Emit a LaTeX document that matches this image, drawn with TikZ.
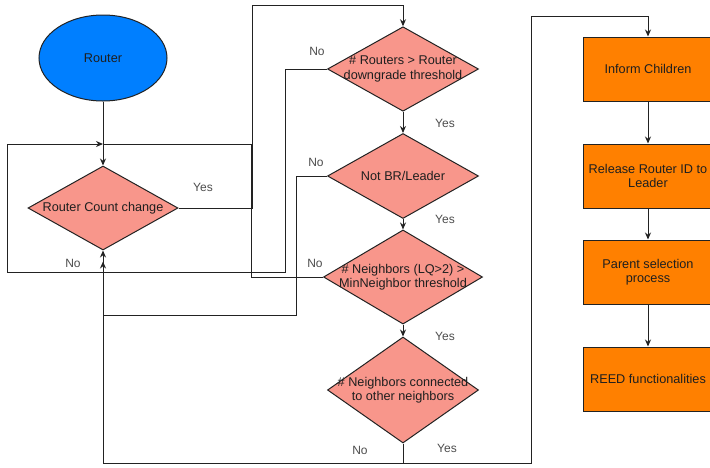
\documentclass[tikz,border=0pt]{standalone}
\usepackage{fontspec}
\setmainfont{Liberation Sans}
\usepackage{tikz}
\usetikzlibrary{shapes.geometric}
\usetikzlibrary{arrows.meta}

\definecolor{routerblue}{HTML}{007FFF}
\definecolor{decisionred}{HTML}{F8968B}
\definecolor{steporange}{HTML}{FF8000}
\definecolor{edgegray}{HTML}{222222}

\begin{document}
\begin{tikzpicture}[x=1pt, y=-1pt, line width=1pt,
	every node/.style={font=\fontsize{12.7}{14.5}\selectfont, text=black!88},
	decision/.style={diamond, draw=edgegray, fill=decisionred, align=center, inner sep=-15pt, minimum width=151pt, minimum height=84pt},
	stepbox/.style={rectangle, draw=edgegray, fill=steporange, align=center, minimum width=130pt, minimum height=64pt},
	arr/.style={draw=edgegray, -{Stealth[length=7pt, width=6pt]}},
	conn/.style={draw=edgegray},
	lbl/.style={text=black!70, font=\fontsize{12}{14}\selectfont}]
	\useasboundingbox (0,0) rectangle (710,467);

	% draw start node
	\node[ellipse, draw=edgegray, fill=routerblue, minimum width=128pt, minimum height=86pt] (router) at (103,58) {Router};

	% draw decisions
	\node[decision, minimum width=150pt] (count) at (103,208) {Router Count change};
	\node[decision] (routers) at (403,69) {\# Routers > Router\\downgrade threshold};
	\node[decision, minimum height=85pt] (notbr) at (403,176) {Not BR/Leader};
	\node[decision, minimum width=159pt, minimum height=94pt] (neigh) at (403,277) {\# Neighbors (LQ>2) >\\MinNeighbor threshold};
	\node[decision, minimum height=106pt] (linked) at (403,390) {\# Neighbors connected\\to other neighbors};

	% draw steps
	\node[stepbox] (inform) at (648,69) {Inform Children};
	\node[stepbox] (release) at (648,176) {Release Router ID to\\Leader};
	\node[stepbox] (parent) at (648,272) {Parent selection\\process};
	\node[stepbox] (reed) at (648,379) {REED functionalities};

	% draw straight arrows
	\draw[arr] (router) -- (count);
	\foreach \a/\b in {routers/notbr, notbr/neigh, neigh/linked, inform/release, release/parent, parent/reed}
	\draw[arr] (\a) -- (\b);

	% draw loops
	\coordinate (join) at (103,144);
	\draw[conn] (neigh.west) -| (251,144) -- (join);
	\draw[arr] (routers.west) -| (285,272) -| (7,144) -- (join);
	\draw[arr] (count.east) -- (252,208) -- (252,5) -| (routers.north);
	\draw[arr] (notbr.west) -| (296,315) -| (count.south);
	\draw[arr] (linked.south) -- (403,463) -| ([yshift=-11pt]count.south);
	\draw[arr] (linked.south) -- (403,463) -- (531,463) -- (531,16) -| (inform.north);

	% draw labels
	\node[lbl] (yes0) at (203,187) {Yes};
	\node[lbl] (no0) at (73,263) {No};
	\node[lbl] (no1) at (317,51) {No};
	\node[lbl] (yes1) at (445,123) {Yes};
	\node[lbl] (no2) at (316,162) {No};
	\node[lbl] (yes2) at (445,219) {Yes};
	\node[lbl] (no3) at (315,263) {No};
	\node[lbl] (yes3) at (445,336) {Yes};
	\node[lbl] (no4) at (360,450) {No};
	\node[lbl] (yes4) at (447,448) {Yes};
\end{tikzpicture}
\end{document}
